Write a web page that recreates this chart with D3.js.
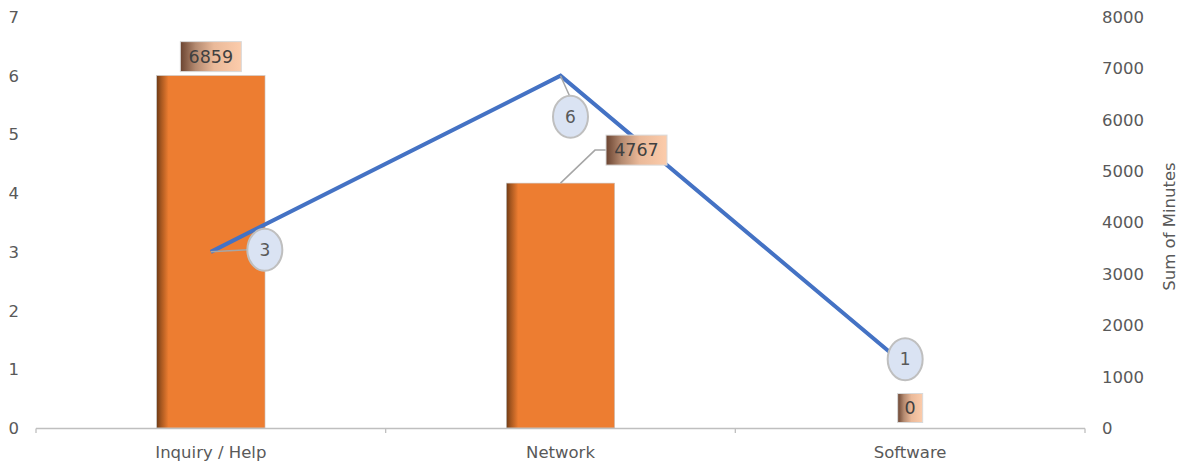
<!DOCTYPE html>
<html>
<head>
<meta charset="utf-8">
<script src="https://cdn.jsdelivr.net/npm/d3@7"></script>
<style>
  html, body { margin: 0; padding: 0; background: #fff; }
  svg { display: block; font-family: "DejaVu Sans", "Noto Sans", sans-serif; }
</style>
</head>
<body>
<svg id="chart" width="1183" height="466"></svg>
<script>
// Categories and series
const categories = ["Inquiry / Help", "Network", "Software"];
const minutes = [6859, 4767, 0];      // bars, right axis
const counts = [3, 6, 1];             // line, left axis
const leftTicks = [0, 1, 2, 3, 4, 5, 6, 7];
const rightTicks = [0, 1000, 2000, 3000, 4000, 5000, 6000, 7000, 8000];
const rightTitle = "Sum of Minutes";

const svg = d3.select("#chart");
const plotLeft = 36, plotRight = 1085, plotTop = 17, plotBottom = 428;

const x = d3.scaleBand().domain(categories).range([plotLeft, plotRight])
  .paddingInner(0.69).paddingOuter(0.345);
const xStep = x.step();
const yL = d3.scaleLinear().domain([0, 7]).range([plotBottom, plotTop]);
const yR = d3.scaleLinear().domain([0, 8000]).range([plotBottom, plotTop]);
const cx = c => x(c) + x.bandwidth() / 2;

const defs = svg.append("defs");
const barGrad = defs.append("linearGradient").attr("id", "barGrad");
barGrad.append("stop").attr("offset", "0%").attr("stop-color", "#6e3b17");
barGrad.append("stop").attr("offset", "4%").attr("stop-color", "#a5561f");
barGrad.append("stop").attr("offset", "11%").attr("stop-color", "#ed7d31");
barGrad.append("stop").attr("offset", "100%").attr("stop-color", "#ed7d31");

const boxGrad = defs.append("linearGradient").attr("id", "boxGrad");
boxGrad.append("stop").attr("offset", "0%").attr("stop-color", "#6a4330");
boxGrad.append("stop").attr("offset", "25%").attr("stop-color", "#b48a70");
boxGrad.append("stop").attr("offset", "55%").attr("stop-color", "#eab999");
boxGrad.append("stop").attr("offset", "100%").attr("stop-color", "#fcccab");

// Left axis labels
svg.append("g").selectAll("text").data(leftTicks).join("text")
  .attr("x", 19).attr("y", d => yL(d)).attr("dy", "0.36em")
  .attr("text-anchor", "end").attr("fill", "#595959").attr("font-size", 16.5)
  .text(d => d);

// Right axis labels
svg.append("g").selectAll("text").data(rightTicks).join("text")
  .attr("x", 1102).attr("y", d => yR(d)).attr("dy", "0.36em")
  .attr("text-anchor", "start").attr("fill", "#595959").attr("font-size", 16.5)
  .text(d => d);

svg.append("text")
  .attr("transform", `translate(1175,${(plotTop + plotBottom) / 2 + 4}) rotate(-90)`)
  .attr("text-anchor", "middle").attr("fill", "#595959").attr("font-size", 16.5)
  .text(rightTitle);

// Bars
svg.append("g").selectAll("rect").data(categories).join("rect")
  .attr("x", d => x(d)).attr("width", x.bandwidth())
  .attr("y", (d, i) => yR(minutes[i]))
  .attr("height", (d, i) => plotBottom - yR(minutes[i]))
  .attr("fill", "url(#barGrad)")
  .attr("stroke", "#c9c9c9").attr("stroke-width", 0.6);

// Category axis
const xAxis = svg.append("g").attr("stroke", "#bfbfbf").attr("stroke-width", 1.3).attr("fill", "none");
xAxis.append("line").attr("x1", plotLeft).attr("x2", plotRight).attr("y1", plotBottom + 0.5).attr("y2", plotBottom + 0.5);
const bounds = [plotLeft, ...categories.map(c => cx(c) + xStep / 2)];
xAxis.selectAll("line.tick").data(bounds).join("line").attr("class", "tick")
  .attr("x1", d => d).attr("x2", d => d).attr("y1", plotBottom + 0.5).attr("y2", plotBottom + 5);

svg.append("g").selectAll("text").data(categories).join("text")
  .attr("x", d => cx(d)).attr("y", 458)
  .attr("text-anchor", "middle").attr("fill", "#595959").attr("font-size", 16.5)
  .text(d => d);

// Count line
const pts = categories.map((c, i) => [cx(c), yL(counts[i])]);
svg.append("path").attr("d", d3.line()(pts))
  .attr("fill", "none").attr("stroke", "#4472c4").attr("stroke-width", 4)
  .attr("stroke-linejoin", "miter");

// Bar value labels (boxed)
const boxOffsets = [[0, -19], [76, -33], [0, -20]];
const boxW = (v) => String(v).length * 11.5 + 15;
const leader = svg.append("g").attr("stroke", "#a6a6a6").attr("stroke-width", 1.5).attr("fill", "none");
categories.forEach((c, i) => {
  const bx = cx(c) + boxOffsets[i][0];
  const by = yR(minutes[i]) + boxOffsets[i][1];
  const w = minutes[i] === 0 ? 25 : boxW(minutes[i]);
  const h = minutes[i] === 0 ? 29 : 30;
  if (i === 1) {
    leader.append("polyline").attr("points",
      `${cx(c)},${yR(minutes[i])} ${bx - w / 2 - 11},${by} ${bx - w / 2},${by}`);
  }
  svg.append("rect").attr("x", bx - w / 2).attr("y", by - h / 2).attr("width", w).attr("height", h)
    .attr("fill", "url(#boxGrad)").attr("stroke", "#d9d9d9").attr("stroke-width", 1);
  svg.append("text").attr("x", bx).attr("y", by).attr("dy", "0.36em")
    .attr("text-anchor", "middle").attr("fill", "#404040").attr("font-size", 17.5)
    .text(minutes[i]);
});

// Line value labels (ellipses)
const ellOffsets = [[54, -2], [10, 41], [-5, -10]];
categories.forEach((c, i) => {
  const [px, py] = pts[i];
  const ex = px + ellOffsets[i][0], ey = py + ellOffsets[i][1];
  if (i === 0) leader.append("line").attr("x1", px).attr("y1", py).attr("x2", ex - 17).attr("y2", ey);
  if (i === 1) leader.append("line").attr("x1", px).attr("y1", py).attr("x2", ex - 1).attr("y2", ey - 21);
  svg.append("ellipse").attr("cx", ex).attr("cy", ey).attr("rx", 17.5).attr("ry", 21)
    .attr("fill", "#dae3f3").attr("stroke", "#bfbfbf").attr("stroke-width", 2);
  svg.append("text").attr("x", ex).attr("y", ey).attr("dy", "0.36em")
    .attr("text-anchor", "middle").attr("fill", "#595959").attr("font-size", 17)
    .text(counts[i]);
});
</script>
</body>
</html>
